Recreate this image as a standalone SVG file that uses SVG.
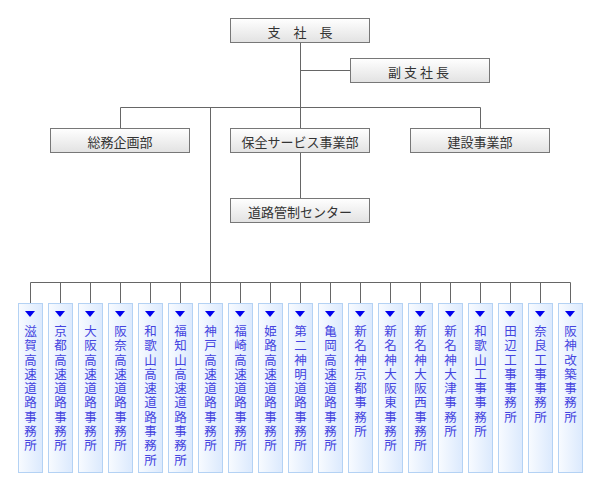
<svg xmlns="http://www.w3.org/2000/svg" width="600" height="500" viewBox="0 0 600 500">
<defs>
<linearGradient id="gg" x1="0" y1="0" x2="0" y2="1">
<stop offset="0" stop-color="#ffffff"/>
<stop offset="1" stop-color="#e2e2e2"/>
</linearGradient>
<linearGradient id="bg" x1="0" y1="0" x2="1" y2="0">
<stop offset="0" stop-color="#f8fbff"/>
<stop offset="1" stop-color="#dbe9fd"/>
</linearGradient>
</defs>
<style>
.g rect{fill:url(#gg);stroke:#777;stroke-width:1}
.g text{font-family:"Noto Sans CJK JP","Noto Sans",sans-serif;font-size:13px;fill:#333;text-anchor:middle;dominant-baseline:central}
.b rect{fill:url(#bg);stroke:#b4d2f4;stroke-width:1}
.b path{fill:#0000ee}
.b text{font-family:"Noto Sans CJK JP","Noto Sans",sans-serif;font-size:12.5px;fill:#4444e0;writing-mode:vertical-rl;letter-spacing:1.8px}
#connectors path{fill:none;stroke:#666;stroke-width:1}
</style>
<rect width="600" height="500" fill="#fff"/>
<g id="connectors">
<path d="M300.5 42 V128.5"/>
<path d="M300.5 70.5 H350"/>
<path d="M120.5 128.5 V107.5 H480.5 V128.5"/>
<path d="M300.5 152.5 V199"/>
<path d="M210.5 107.5 V282.5"/>
<path d="M30.5 303 V282.5 H570.5 V303"/>
<path d="M60.5 282.5V303M90.5 282.5V303M120.5 282.5V303M150.5 282.5V303M180.5 282.5V303M210.5 282.5V303M240.5 282.5V303M270.5 282.5V303M300.5 282.5V303M330.5 282.5V303M360.5 282.5V303M390.5 282.5V303M420.5 282.5V303M450.5 282.5V303M480.5 282.5V303M510.5 282.5V303M540.5 282.5V303"/>
</g>
<g id="n-shishacho" class="g"><rect x="230.5" y="18.5" width="139" height="24"/><text x="300" y="31">支　社　長</text></g>
<g id="n-fukushishacho" class="g"><rect x="350.5" y="58.5" width="139" height="24"/><text x="420" y="71" style="letter-spacing:3px">副支社長</text></g>
<g id="n-somu" class="g"><rect x="50.5" y="128.5" width="139" height="24"/><text x="120" y="141">総務企画部</text></g>
<g id="n-hozen" class="g"><rect x="230.5" y="128.5" width="139" height="24"/><text x="300" y="141">保全サービス事業部</text></g>
<g id="n-kensetsu" class="g"><rect x="410.5" y="128.5" width="139" height="24"/><text x="480" y="141">建設事業部</text></g>
<g id="n-kansei" class="g"><rect x="230.5" y="198.5" width="139" height="24"/><text x="300" y="211">道路管制センター</text></g>
<g id="o1" class="b"><rect x="18.5" y="303.5" width="24" height="169"/><path d="M25 311H35L30 317Z"/><text x="30.5" y="325">滋賀高速道路事務所</text></g>
<g id="o2" class="b"><rect x="48.5" y="303.5" width="24" height="169"/><path d="M55 311H65L60 317Z"/><text x="60.5" y="325">京都高速道路事務所</text></g>
<g id="o3" class="b"><rect x="78.5" y="303.5" width="24" height="169"/><path d="M85 311H95L90 317Z"/><text x="90.5" y="325">大阪高速道路事務所</text></g>
<g id="o4" class="b"><rect x="108.5" y="303.5" width="24" height="169"/><path d="M115 311H125L120 317Z"/><text x="120.5" y="325">阪奈高速道路事務所</text></g>
<g id="o5" class="b"><rect x="138.5" y="303.5" width="24" height="169"/><path d="M145 311H155L150 317Z"/><text x="150.5" y="325">和歌山高速道路事務所</text></g>
<g id="o6" class="b"><rect x="168.5" y="303.5" width="24" height="169"/><path d="M175 311H185L180 317Z"/><text x="180.5" y="325">福知山高速道路事務所</text></g>
<g id="o7" class="b"><rect x="198.5" y="303.5" width="24" height="169"/><path d="M205 311H215L210 317Z"/><text x="210.5" y="325">神戸高速道路事務所</text></g>
<g id="o8" class="b"><rect x="228.5" y="303.5" width="24" height="169"/><path d="M235 311H245L240 317Z"/><text x="240.5" y="325">福崎高速道路事務所</text></g>
<g id="o9" class="b"><rect x="258.5" y="303.5" width="24" height="169"/><path d="M265 311H275L270 317Z"/><text x="270.5" y="325">姫路高速道路事務所</text></g>
<g id="o10" class="b"><rect x="288.5" y="303.5" width="24" height="169"/><path d="M295 311H305L300 317Z"/><text x="300.5" y="325">第二神明道路事務所</text></g>
<g id="o11" class="b"><rect x="318.5" y="303.5" width="24" height="169"/><path d="M325 311H335L330 317Z"/><text x="330.5" y="325">亀岡高速道路事務所</text></g>
<g id="o12" class="b"><rect x="348.5" y="303.5" width="24" height="169"/><path d="M355 311H365L360 317Z"/><text x="360.5" y="325">新名神京都事務所</text></g>
<g id="o13" class="b"><rect x="378.5" y="303.5" width="24" height="169"/><path d="M385 311H395L390 317Z"/><text x="390.5" y="325">新名神大阪東事務所</text></g>
<g id="o14" class="b"><rect x="408.5" y="303.5" width="24" height="169"/><path d="M415 311H425L420 317Z"/><text x="420.5" y="325">新名神大阪西事務所</text></g>
<g id="o15" class="b"><rect x="438.5" y="303.5" width="24" height="169"/><path d="M445 311H455L450 317Z"/><text x="450.5" y="325">新名神大津事務所</text></g>
<g id="o16" class="b"><rect x="468.5" y="303.5" width="24" height="169"/><path d="M475 311H485L480 317Z"/><text x="480.5" y="325">和歌山工事事務所</text></g>
<g id="o17" class="b"><rect x="498.5" y="303.5" width="24" height="169"/><path d="M505 311H515L510 317Z"/><text x="510.5" y="325">田辺工事事務所</text></g>
<g id="o18" class="b"><rect x="528.5" y="303.5" width="24" height="169"/><path d="M535 311H545L540 317Z"/><text x="540.5" y="325">奈良工事事務所</text></g>
<g id="o19" class="b"><rect x="558.5" y="303.5" width="24" height="169"/><path d="M565 311H575L570 317Z"/><text x="570.5" y="325">阪神改築事務所</text></g>
</svg>
